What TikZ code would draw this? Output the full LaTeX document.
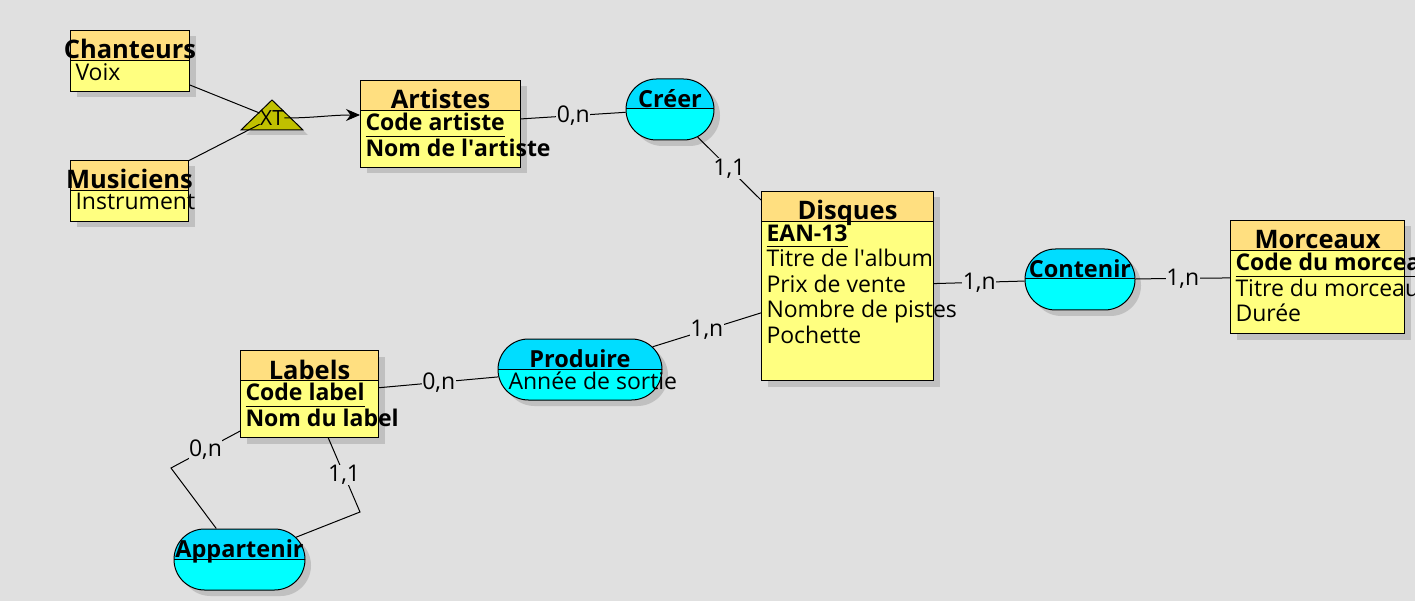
\documentclass[tikz,border=0pt]{standalone}
\usepackage{fontspec}
\setmainfont{Open Sans}
\usetikzlibrary{arrows.meta,shapes.misc,shadows}
\definecolor{bg}{HTML}{E0E0E0}
\definecolor{entityhead}{HTML}{FFDF80}
\definecolor{entitybody}{HTML}{FFFF80}
\definecolor{relhead}{HTML}{00DDFF}
\definecolor{relbody}{HTML}{00FFFF}
\definecolor{shade}{HTML}{C0C0C0}
\definecolor{xtfill}{HTML}{C0C000}
\newsavebox{\idbox}
\newcommand{\idattr}[1]{\sbox{\idbox}{\textbf{#1}}\rlap{\rule[-6pt]{\wd\idbox}{1pt}}\usebox{\idbox}}
\begin{document}
\begin{tikzpicture}[x=1pt, y=-1pt, line width=1pt,
        header/.style={path picture={
            \fill[#1] (path picture bounding box.north west) rectangle ([yshift=-30pt]path picture bounding box.north east);
            \draw ([yshift=-30pt]path picture bounding box.north west) -- ([yshift=-30pt]path picture bounding box.north east);}},
        entity/.style={draw, fill=entitybody, anchor=north west, inner sep=0pt, header=entityhead,
            drop shadow={shadow xshift=6pt, shadow yshift=-6pt, fill=shade, opacity=1}},
        relation/.style={entity, rounded rectangle, anchor=center, fill=relbody, header=relhead},
        title/.style={anchor=base, inner sep=0pt, font=\bfseries\fontsize{25.5}{28}\selectfont},
        reltitle/.style={title, font=\bfseries\fontsize{23.5}{26}\selectfont},
        attr/.style={anchor=north west, inner sep=0pt, align=left, font=\fontsize{23}{25.5}\selectfont},
        card/.style={fill=bg, inner sep=0.5pt, font=\fontsize{23}{25}\selectfont},
        isa/.style={-{Stealth[length=14pt,width=12pt]}}
    ]
    \fill[bg] (0,0) rectangle (1415,601);
    \useasboundingbox (0,0) rectangle (1415,601);
    % Entities
    \node[entity, minimum width=119pt, minimum height=61pt] (chanteurs) at (70,30) {};
    \node[title] (t-chanteurs) at ([yshift=-29pt]chanteurs.north) {Chanteurs};
    \node[attr] (a-chanteurs) at ([xshift=5pt,yshift=-33pt]chanteurs.north west) {Voix};
    \node[entity, minimum width=118pt, minimum height=61pt] (musiciens) at (70,160) {};
    \node[title] (t-musiciens) at ([yshift=-29pt]musiciens.north) {Musiciens};
    \node[attr] (a-musiciens) at ([xshift=5pt,yshift=-33pt]musiciens.north west) {Instrument};
    \node[entity, minimum width=160pt, minimum height=87pt] (artistes) at (360,80) {};
    \node[title] (t-artistes) at ([yshift=-29pt]artistes.north) {Artistes};
    \node[attr] (a-artistes) at ([xshift=5pt,yshift=-33pt]artistes.north west) {\idattr{Code artiste}\\\textbf{Nom de l\textquotesingle artiste}};
    \node[entity, minimum width=172pt, minimum height=189pt] (disques) at (761,191) {};
    \node[title] (t-disques) at ([yshift=-29pt]disques.north) {Disques};
    \node[attr] (a-disques) at ([xshift=5pt,yshift=-33pt]disques.north west) {\idattr{EAN-13}\\Titre de l\textquotesingle album\\Prix de vente\\Nombre de pistes\\Pochette};
    \node[entity, minimum width=174pt, minimum height=113pt] (morceaux) at (1230,220) {};
    \node[title] (t-morceaux) at ([yshift=-29pt]morceaux.north) {Morceaux};
    \node[attr] (a-morceaux) at ([xshift=5pt,yshift=-33pt]morceaux.north west) {\idattr{Code du morceau}\\Titre du morceau\\Durée};
    \node[entity, minimum width=138pt, minimum height=87pt] (labels) at (240,350) {};
    \node[title] (t-labels) at ([yshift=-29pt]labels.north) {Labels};
    \node[attr] (a-labels) at ([xshift=5pt,yshift=-33pt]labels.north west) {\idattr{Code label}\\\textbf{Nom du label}};
    % Relations
    \node[relation, minimum width=88pt, minimum height=61pt] (creer) at (670,109.5) {};
    \node[reltitle] (t-creer) at ([yshift=-29pt]creer.north) {Créer};
    \node[relation, minimum width=110pt, minimum height=61pt] (contenir) at (1080,279.5) {};
    \node[reltitle] (t-contenir) at ([yshift=-29pt]contenir.north) {Contenir};
    \node[relation, minimum width=164pt, minimum height=61pt] (produire) at (580,369.5) {};
    \node[reltitle] (t-produire) at ([yshift=-29pt]produire.north) {Produire};
    \node[attr] (a-produire) at ([xshift=-72pt,yshift=-33pt]produire.north) {Année de sortie};
    \node[relation, minimum width=131pt, minimum height=61pt] (appartenir) at (239.5,559.5) {};
    \node[reltitle] (t-appartenir) at ([yshift=-29pt]appartenir.north) {Appartenir};
    % Inheritance
    \draw[fill=xtfill, drop shadow={shadow xshift=5pt, shadow yshift=-5pt, fill=shade, opacity=1}] (241,130) -- (272,100) -- (303,130) -- cycle;
    \node[inner sep=0pt, font=\fontsize{21}{24}\selectfont] (xt) at (272,118) {XT};
    \draw (chanteurs) -- (xt);
    \draw (musiciens) -- (xt);
    \draw[isa] (xt) to[out=0, in=180] ([yshift=9pt]artistes.west);
    % Links
    \draw (artistes) -- node[card] {0,n} (creer);
    \draw (creer) -- node[card] {1,1} (disques);
    \draw (disques) -- node[card] {1,n} (contenir);
    \draw (contenir) -- node[card] {1,n} (morceaux);
    \draw (produire) -- node[card] {1,n} (disques);
    \draw (labels) -- node[card] {0,n} (produire);
    \coordinate (bend1) at (171,468);
    \coordinate (bend2) at (360,512);
    \draw (labels) -- node[card] {0,n} (bend1) -- (appartenir);
    \draw (labels) -- node[card] {1,1} (bend2) -- (appartenir);
\end{tikzpicture}
\end{document}
